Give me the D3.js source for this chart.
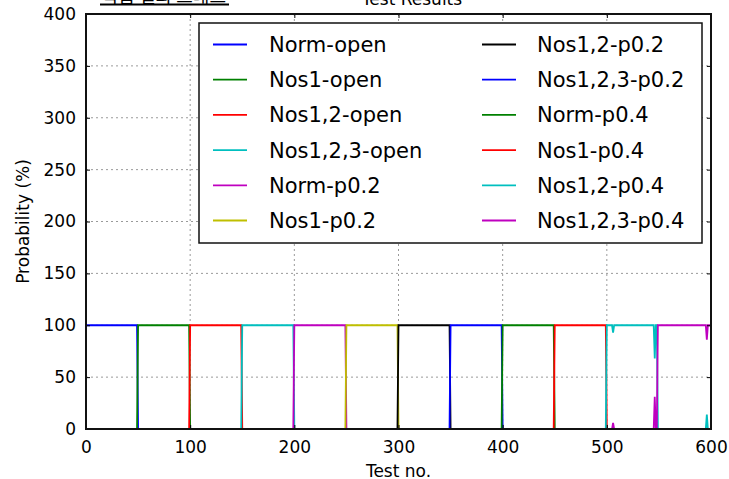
<!DOCTYPE html>
<html>
<head>
<meta charset="utf-8">
<script src="https://cdn.jsdelivr.net/npm/d3@7"></script>
<style>
  html, body { margin: 0; padding: 0; background: #fff; }
  svg { display: block; }
  text { font-family: "DejaVu Sans", sans-serif; fill: #000; }
</style>
</head>
<body>
<svg id="chart" width="729" height="479"></svg>
<script>
// ---------------- DATA ----------------
const seriesNames = [
  "Norm-open", "Nos1-open", "Nos1,2-open", "Nos1,2,3-open",
  "Norm-p0.2", "Nos1-p0.2", "Nos1,2-p0.2", "Nos1,2,3-p0.2",
  "Norm-p0.4", "Nos1-p0.4", "Nos1,2-p0.4", "Nos1,2,3-p0.4"
];
// [test no., probability %] breakpoints
const normOpen    = [[0,100],[49,100],[50,0],[600,0]];
const nos1Open    = [[0,0],[49,0],[50,100],[99,100],[100,0],[600,0]];
const nos12Open   = [[0,0],[99,0],[100,100],[149,100],[150,0],[600,0]];
const nos123Open  = [[0,0],[149,0],[150,100],[199,100],[200,0],[600,0]];
const normP02     = [[0,0],[199,0],[200,100],[249,100],[250,0],[600,0]];
const nos1P02     = [[0,0],[249,0],[250,100],[299,100],[300,0],[600,0]];
const nos12P02    = [[0,0],[299,0],[300,100],[349,100],[350,0],[600,0]];
const nos123P02   = [[0,0],[349,0],[350,100],[399,100],[400,0],[600,0]];
const normP04     = [[0,0],[399,0],[400,100],[449,100],[450,0],[600,0]];
const nos1P04     = [[0,0],[449,0],[450,100],[499,100],[500,0],[600,0]];
const nos12P04    = [[0,0],[499,0],[500,100],[505,100],[506,93],[507,100],[545,100],[546,68],[547,100],[548,100],[549,0],[595,0],[596,14],[597,0],[600,0]];
const nos123P04   = [[0,0],[505,0],[506,6],[507,0],[545,0],[546,31],[547,0],[548,0],[549,100],[595,100],[596,86],[597,100],[600,100]];
const seriesValues = [normOpen, nos1Open, nos12Open, nos123Open, normP02, nos1P02,
                      nos12P02, nos123P02, normP04, nos1P04, nos12P04, nos123P04];

const xTicks = [0, 100, 200, 300, 400, 500, 600];
const yTicks = [0, 50, 100, 150, 200, 250, 300, 350, 400];
const titleText = "Test Results";
const xLabelText = "Test no.";
const yLabelText = "Probability (%)";
const noteText = "학습 결과 그래프";

// ---------------- STYLE ----------------
const colors = ["#0000ff", "#008000", "#ff0000", "#00bfbf", "#bf00bf", "#bfbf00", "#000000"];
const plot = { left: 86, right: 711, top: 14, bottom: 429 };

const svg = d3.select("#chart");
const x = d3.scaleLinear().domain([0, 600]).range([plot.left, plot.right]);
const y = d3.scaleLinear().domain([0, 400]).range([plot.bottom, plot.top]);

// grid
const grid = svg.append("g");
grid.selectAll("line.gx").data(xTicks.slice(1, -1)).join("line")
  .attr("x1", d => x(d)).attr("x2", d => x(d))
  .attr("y1", plot.top).attr("y2", plot.bottom)
  .attr("stroke", "#9a9a9a").attr("stroke-width", 1).attr("stroke-dasharray", "2,3");
grid.selectAll("line.gy").data(yTicks.slice(1, -1)).join("line")
  .attr("y1", d => y(d)).attr("y2", d => y(d))
  .attr("x1", plot.left).attr("x2", plot.right)
  .attr("stroke", "#9a9a9a").attr("stroke-width", 1).attr("stroke-dasharray", "2,3");

// lines
const line = d3.line().x(d => x(d[0])).y(d => y(d[1]));
svg.append("g").selectAll("path").data(seriesValues).join("path")
  .attr("d", line)
  .attr("fill", "none")
  .attr("stroke", (d, i) => colors[i % colors.length])
  .attr("stroke-width", 1.8);

// axes (ticks inward on all sides)
const fs = 17;
const bottomAxis = d3.axisBottom(x).tickValues(xTicks).tickSizeInner(-4).tickSizeOuter(0).tickPadding(12).tickFormat(d3.format("d"));
const topAxis = d3.axisTop(x).tickValues(xTicks).tickSizeInner(-4).tickSizeOuter(0).tickFormat("");
const leftAxis = d3.axisLeft(y).tickValues(yTicks).tickSizeInner(-4).tickSizeOuter(0).tickPadding(10).tickFormat(d3.format("d"));
const rightAxis = d3.axisRight(y).tickValues(yTicks).tickSizeInner(-4).tickSizeOuter(0).tickFormat("");

function styleAxis(g) {
  g.select(".domain").remove();
  g.selectAll(".tick line").attr("stroke", "#000").attr("stroke-width", 1);
  g.selectAll(".tick text").attr("font-size", fs).attr("font-family", "DejaVu Sans").attr("fill", "#222");
}
svg.append("g").attr("transform", `translate(0,${plot.bottom})`).call(bottomAxis).call(styleAxis);
svg.append("g").attr("transform", `translate(0,${plot.top})`).call(topAxis).call(styleAxis);
svg.append("g").attr("transform", `translate(${plot.left},0)`).call(leftAxis).call(styleAxis);
svg.append("g").attr("transform", `translate(${plot.right},0)`).call(rightAxis).call(styleAxis);

// frame
svg.append("rect")
  .attr("x", plot.left).attr("y", plot.top)
  .attr("width", plot.right - plot.left).attr("height", plot.bottom - plot.top)
  .attr("fill", "none").attr("stroke", "#111").attr("stroke-width", 2);

// legend
const lg = svg.append("g");
lg.append("rect").attr("x", 199).attr("y", 23).attr("width", 503).attr("height", 220)
  .attr("fill", "#fff").attr("stroke", "#111").attr("stroke-width", 1.5);
const rowH = 35.2;
seriesNames.forEach((name, i) => {
  const col = Math.floor(i / 6), row = i % 6;
  const cy = 44.5 + row * rowH;
  const hx = col === 0 ? 213 : 482;
  const tx = col === 0 ? 269 : 537;
  lg.append("line").attr("x1", hx).attr("x2", hx + 34).attr("y1", cy).attr("y2", cy)
    .attr("stroke", colors[i % colors.length]).attr("stroke-width", 1.8);
  lg.append("text").attr("x", tx).attr("y", cy).attr("dy", "0.36em")
    .attr("font-size", 21).attr("fill", "#111").text(name);
});

// labels
svg.append("text").attr("x", 412).attr("y", 5).attr("text-anchor", "middle")
  .attr("font-size", fs).text(titleText);
svg.append("text").attr("x", (plot.left + plot.right) / 2).attr("y", 477).attr("text-anchor", "middle")
  .attr("font-size", fs).attr("fill", "#222").text(xLabelText);
svg.append("text").attr("transform", `translate(29,${(plot.top + plot.bottom) / 2}) rotate(-90)`)
  .attr("text-anchor", "middle").attr("font-size", fs).attr("fill", "#222").text(yLabelText);

// clipped note at top-left
svg.append("text").attr("x", 164).attr("y", 3).attr("text-anchor", "middle")
  .attr("font-size", 18).style("font-family", "'Noto Sans CJK KR', sans-serif").text(noteText);
svg.append("line").attr("x1", 100).attr("x2", 229).attr("y1", 4.5).attr("y2", 4.5)
  .attr("stroke", "#000").attr("stroke-width", 2);
</script>
</body>
</html>
